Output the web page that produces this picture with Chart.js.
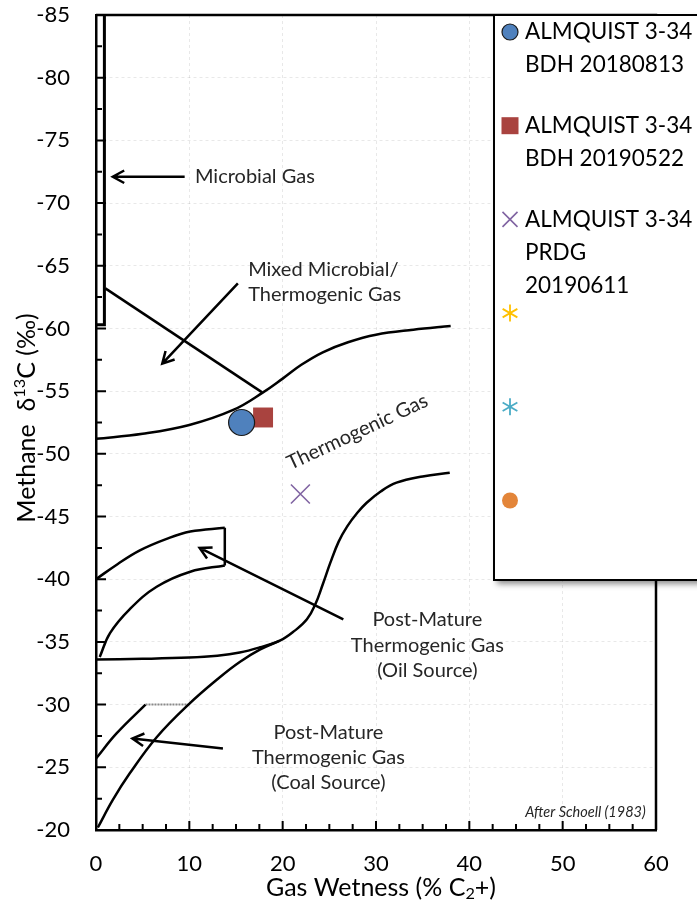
<!DOCTYPE html>
<html lang="en">
<head>
<meta charset="UTF-8">
<title>Methane d13C vs Gas Wetness</title>
<style>
  html, body { margin: 0; padding: 0; background: #fff; }
  #wrap { width: 697px; height: 908px; }
</style>
</head>
<body>
<div id="wrap"><canvas id="chart" width="697" height="908"></canvas></div>
<script src="https://cdn.jsdelivr.net/npm/chart.js@4.4.1/dist/chart.umd.min.js"></script>
<script>
// samples (x = gas wetness %, y = methane d13C permil)
const sampleNames = [['ALMQUIST 3-34', 'BDH 20180813'], ['ALMQUIST 3-34', 'BDH 20190522'], ['ALMQUIST 3-34', 'PRDG', '20190611'], [], [], []];
const sampleColors = ['#4F81BD', '#A9433F', '#8064A2', '#FFC000', '#4BACC6', '#E38539'];
const sampleStyles = ['circle', 'rect', 'crossRot', 'star6', 'star6', 'circle'];
const sampleX = [[15.6], [17.9], [21.9], [], [], []];
const sampleY = [[-52.5], [-52.9], [-46.8], [], [], []];

// Schoell (1983) field boundaries
const microbialX = [0, 0.9, 0.9];
const microbialY = [-60.3, -60.3, -85];
const mixedX = [1.0, 17.8];
const mixedY = [-63.2, -54.9];
const thermoTopX = [0, 5, 10, 14.7, 17.9, 20, 22, 24.3, 27, 30, 34, 38];
const thermoTopY = [-51.2, -51.6, -52.3, -53.5, -54.9, -56.0, -57.1, -58.1, -58.9, -59.5, -59.9, -60.2];
const thermoBaseX = [0, 5, 10, 13, 15.4, 17.5, 19.7, 21.3, 22.6, 23.5, 24.3, 25.1, 26, 26.9, 28, 29, 30.5, 32.2, 35, 37.9];
const thermoBaseY = [-33.6, -33.65, -33.75, -33.9, -34.15, -34.55, -35.1, -35.9, -36.8, -38.0, -39.6, -41.3, -43.0, -44.2, -45.3, -46.1, -47.0, -47.7, -48.2, -48.5];
const oilTopX = [0, 2.3, 4.7, 7.5, 10.1, 13.8];
const oilTopY = [-40.0, -41.2, -42.3, -43.2, -43.8, -44.1];
const oilSideX = [13.8, 13.8];
const oilSideY = [-44.1, -41.1];
const oilBottomX = [0.4, 1.5, 3.6, 6.5, 10.1, 13.8];
const oilBottomY = [-33.8, -35.7, -37.6, -39.4, -40.6, -41.1];
const coalBaseX = [0.2, 1.8, 3.6, 6.5, 9.9, 13.3, 15.4, 17.6, 19.7];
const coalBaseY = [-20.2, -22.4, -24.5, -27.4, -30.0, -32.2, -33.4, -34.4, -35.1];
const coalTopX = [0, 2.2, 5.3];
const coalTopY = [-25.7, -27.7, -30.0];
const coalCapX = [5.3, 9.9];
const coalCapY = [-30.0, -30.0];

// axis ticks
const xTicks = [0, 10, 20, 30, 40, 50, 60];
const yTicks = [-85, -80, -75, -70, -65, -60, -55, -50, -45, -40, -35, -30, -25, -20];

// annotation arrows and labels (data units)
const arrowFrom = [[9.5, -72.1], [15.2, -63.6], [26.5, -36.8], [13.6, -26.5]];
const arrowTo = [[1.8, -72.1], [7.1, -57.2], [11.1, -42.5], [3.9, -27.3]];
const zoneText = [['Microbial Gas'], ['Mixed Microbial/', 'Thermogenic Gas'], ['Thermogenic Gas'],
  ['Post-Mature', 'Thermogenic Gas', '(Oil Source)'], ['Post-Mature', 'Thermogenic Gas', '(Coal Source)']];
const zoneX = [10.6, 16.3, 28.0, 35.5, 24.9];
const zoneY = [-72.1, -64.7, -51.75, -36.75, -27.8];

const FONT = 'Lato, "Open Sans", sans-serif';

function xy(xs, ys) { return xs.map((x, i) => ({ x: x, y: ys[i] })); }

function boundary(xs, ys, smooth, extra) {
  return Object.assign({
    label: '', data: xy(xs, ys), showLine: true, borderColor: '#000', borderWidth: 2.5,
    pointRadius: 0, pointHoverRadius: 0, fill: false,
    tension: smooth ? 0.4 : 0
  }, extra || {});
}

const markerSize = { circle: 13, rect: 14.1, crossRot: 13.4 };

const sampleSets = sampleNames.map((n, i) => ({
  label: n.join(' '),
  data: xy(sampleX[i], sampleY[i]),
  showLine: false,
  pointStyle: sampleStyles[i] === 'star6' ? 'star' : sampleStyles[i],
  pointRadius: markerSize[sampleStyles[i]] || 10,
  backgroundColor: sampleColors[i],
  borderColor: i === 0 ? '#1a1a1a' : sampleColors[i],
  borderWidth: i === 0 ? 1.2 : (sampleStyles[i] === 'crossRot' ? 1.6 : 0)
}));

function drawStar6(c, x, y, r) {
  c.beginPath();
  c.moveTo(x, y - r); c.lineTo(x, y + r);
  const dx = r * Math.cos(Math.PI / 6), dy = r * Math.sin(Math.PI / 6);
  c.moveTo(x - dx, y - dy); c.lineTo(x + dx, y + dy);
  c.moveTo(x - dx, y + dy); c.lineTo(x + dx, y - dy);
  c.stroke();
}

function drawArrow(c, x1, y1, x2, y2) {
  const a = Math.atan2(y2 - y1, x2 - x1), h = 13, w = 0.5;
  c.beginPath();
  c.moveTo(x1, y1); c.lineTo(x2, y2);
  c.moveTo(x2 - h * Math.cos(a - w), y2 - h * Math.sin(a - w));
  c.lineTo(x2, y2);
  c.lineTo(x2 - h * Math.cos(a + w), y2 - h * Math.sin(a + w));
  c.stroke();
}

// text with sub / superscript parts
function richText(c, parts, cx, cy, size, rot) {
  c.save();
  c.translate(cx, cy);
  c.rotate(rot);
  let total = 0;
  parts.forEach(p => {
    c.font = (p[1] ? size * 0.65 : size) + 'px ' + FONT;
    total += c.measureText(p[0]).width;
  });
  let x = -total / 2;
  c.textBaseline = 'middle';
  c.textAlign = 'left';
  parts.forEach(p => {
    c.font = (p[1] ? size * 0.65 : size) + 'px ' + FONT;
    const dy = p[1] === 'sup' ? -size * 0.3 : (p[1] === 'sub' ? size * 0.25 : 0);
    c.fillText(p[0], x, dy);
    x += c.measureText(p[0]).width;
  });
  c.restore();
}

const decor = {
  id: 'decor',
  afterDatasetsDraw(chart) {
    const c = chart.ctx, a = chart.chartArea;
    const sx = chart.scales.x, sy = chart.scales.y;
    c.save();
    c.fillStyle = '#000';
    c.strokeStyle = '#000';

    // inward ticks
    c.lineWidth = 2;
    c.beginPath();
    for (let v = 0; v <= 60.01; v += 2.5) {
      const px = sx.getPixelForValue(v), len = v % 10 === 0 ? 9 : 6;
      c.moveTo(px, a.bottom); c.lineTo(px, a.bottom - len);
    }
    for (let v = -85; v <= -19.99; v += 2.5) {
      const py = sy.getPixelForValue(v), len = v % 5 === 0 ? 10 : 6;
      c.moveTo(a.left, py); c.lineTo(a.left + len, py);
    }
    c.stroke();

    // top / right frame
    c.lineWidth = 2.5;
    c.beginPath();
    c.moveTo(a.left, a.top); c.lineTo(a.right, a.top); c.lineTo(a.right, a.bottom);
    c.stroke();

    // arrows
    c.lineWidth = 2.5;
    arrowFrom.forEach((f, i) => {
      drawArrow(c, sx.getPixelForValue(f[0]), sy.getPixelForValue(f[1]),
        sx.getPixelForValue(arrowTo[i][0]), sy.getPixelForValue(arrowTo[i][1]));
    });

    // zone labels
    c.fillStyle = '#262626';
    c.font = '20px ' + FONT;
    c.textBaseline = 'middle';
    zoneText.forEach((lines, i) => {
      const px = sx.getPixelForValue(zoneX[i]), py = sy.getPixelForValue(zoneY[i]);
      c.save();
      c.translate(px, py);
      if (i === 2) c.rotate(-25 * Math.PI / 180);
      c.textAlign = (i < 2) ? 'left' : 'center';
      lines.forEach((t, k) => c.fillText(t, 0, k * 25.3));
      c.restore();
    });
    c.font = 'italic 14.5px ' + FONT;
    c.textAlign = 'right';
    c.fillText('After Schoell (1983)', sx.getPixelForValue(58.9), sy.getPixelForValue(-21.4));

    // axis titles
    c.fillStyle = '#000';
    richText(c, [['Gas Wetness (% C'], ['2', 'sub'], ['+)']], 381, 888, 25, 0);
    richText(c, [['Methane  \u03B4'], ['13', 'sup'], ['C (\u2030)']], 27, 418, 25, -Math.PI / 2);

    // legend box
    const lx = 494, ly = a.top, lb = 580, lr = chart.width + 20;
    c.save();
    c.shadowColor = 'rgba(0,0,0,0.45)';
    c.shadowBlur = 6;
    c.shadowOffsetX = 3;
    c.shadowOffsetY = 4;
    c.fillStyle = '#fff';
    c.fillRect(lx, ly, lr - lx, lb - ly);
    c.restore();
    c.lineWidth = 2;
    c.strokeStyle = '#000';
    c.strokeRect(lx, ly, lr - lx, lb - ly);

    c.font = '22.5px ' + FONT;
    c.textAlign = 'left';
    c.textBaseline = 'middle';
    sampleNames.forEach((lines, i) => {
      const my = ly + 17 + i * 93.7, mx = lx + 16;
      const st = sampleStyles[i];
      c.fillStyle = sampleColors[i];
      c.strokeStyle = sampleColors[i];
      if (st === 'circle') {
        c.beginPath(); c.arc(mx, my, 8, 0, Math.PI * 2); c.fill();
        if (i === 0) { c.lineWidth = 1.2; c.strokeStyle = '#1a1a1a'; c.stroke(); }
      } else if (st === 'rect') {
        c.fillRect(mx - 8.5, my - 8.5, 17, 17);
      } else if (st === 'crossRot') {
        c.lineWidth = 1.6;
        c.beginPath();
        c.moveTo(mx - 7.5, my - 7.5); c.lineTo(mx + 7.5, my + 7.5);
        c.moveTo(mx - 7.5, my + 7.5); c.lineTo(mx + 7.5, my - 7.5);
        c.stroke();
      } else {
        c.lineWidth = 1.8;
        drawStar6(c, mx, my, 8.5);
      }
      c.fillStyle = '#000';
      lines.forEach((t, k) => c.fillText(t, lx + 31, my + k * 33));
    });
    c.restore();
  }
};

function noPad(s) { s.paddingTop = 0; s.paddingBottom = 0; s.paddingLeft = 0; s.paddingRight = 0; }

new Chart(document.getElementById('chart'), {
  type: 'scatter',
  data: {
    datasets: sampleSets.concat([
      boundary(microbialX, microbialY, false, { borderWidth: 3 }),
      boundary(mixedX, mixedY, false),
      boundary(thermoTopX, thermoTopY, true),
      boundary(thermoBaseX, thermoBaseY, true),
      boundary(oilTopX, oilTopY, true),
      boundary(oilSideX, oilSideY, false),
      boundary(oilBottomX, oilBottomY, true),
      boundary(coalBaseX, coalBaseY, true),
      boundary(coalTopX, coalTopY, true),
      boundary(coalCapX, coalCapY, false, { borderColor: '#8a8a8a', borderWidth: 2, borderDash: [2, 1] })
    ])
  },
  options: {
    responsive: false,
    animation: false,
    devicePixelRatio: 1,
    layout: { padding: { top: 15, right: 41, left: 0, bottom: 0 } },
    plugins: { legend: { display: false }, tooltip: { enabled: false } },
    scales: {
      x: {
        type: 'linear', min: 0, max: 60,
        afterFit: s => { s.height = 78; noPad(s); },
        afterBuildTicks: s => { s.ticks = xTicks.map(v => ({ value: v })); },
        ticks: { color: '#000', font: { family: FONT, size: 22 }, padding: 21, autoSkip: false, maxRotation: 0 },
        grid: { color: 'rgba(0,0,0,0.09)', drawTicks: false },
        border: { color: '#000', width: 2.5, dash: [3, 3] },
        title: { display: false }
      },
      y: {
        type: 'linear', min: -85, max: -20, reverse: true,
        afterFit: s => { s.width = 96; noPad(s); },
        afterBuildTicks: s => { s.ticks = yTicks.map(v => ({ value: v })); },
        ticks: { color: '#000', font: { family: FONT, size: 22 }, padding: 26, autoSkip: false },
        grid: { color: 'rgba(0,0,0,0.09)', drawTicks: false },
        border: { color: '#000', width: 2.5, dash: [3, 3] },
        title: { display: false }
      }
    }
  },
  plugins: [decor]
});
</script>
</body>
</html>
